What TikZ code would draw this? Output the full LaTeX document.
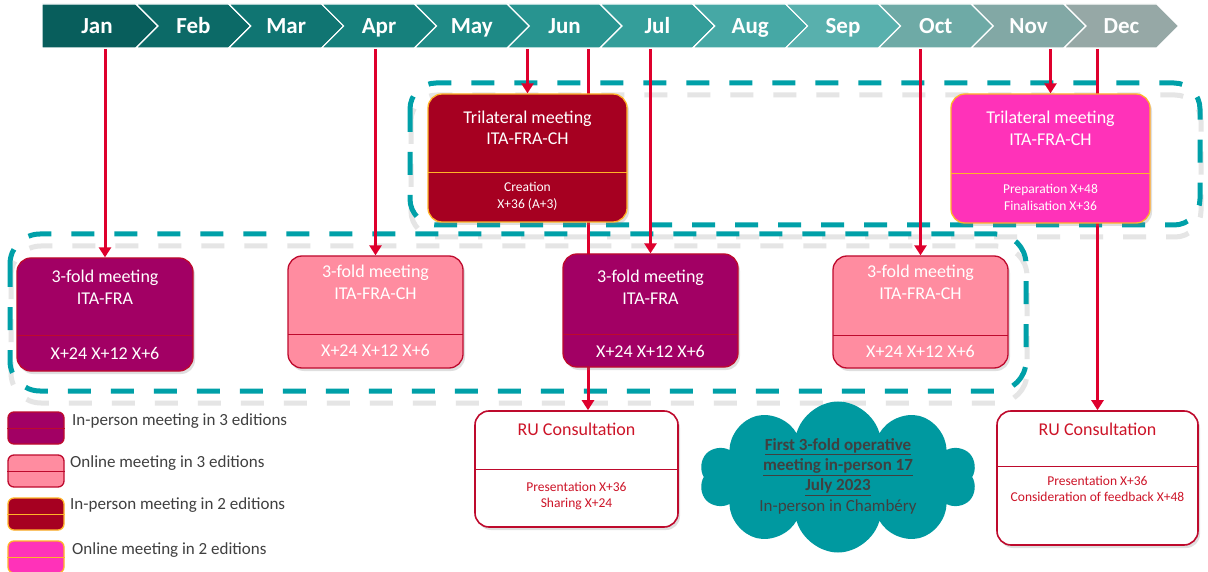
\documentclass[tikz,border=0pt]{standalone}
\usepackage{fontspec}
\setmainfont{Carlito}
\usetikzlibrary{arrows.meta,shapes.symbols,shadows}
\definecolor{mc0}{RGB}{8,94,92}
\definecolor{mc1}{RGB}{12,106,103}
\definecolor{mc2}{RGB}{16,117,114}
\definecolor{mc3}{RGB}{22,128,124}
\definecolor{mc4}{RGB}{30,138,134}
\definecolor{mc5}{RGB}{40,148,144}
\definecolor{mc6}{RGB}{52,158,154}
\definecolor{mc7}{RGB}{70,168,165}
\definecolor{mc8}{RGB}{88,176,173}
\definecolor{mc9}{RGB}{110,170,166}
\definecolor{mc10}{RGB}{130,168,165}
\definecolor{mc11}{RGB}{150,168,166}
\definecolor{cArrow}{RGB}{222,0,45}
\definecolor{cPurple}{RGB}{162,0,100}
\definecolor{cPink}{RGB}{255,140,160}
\definecolor{cDarkRed}{RGB}{166,0,33}
\definecolor{cHotPink}{RGB}{255,50,185}
\definecolor{cOrange}{RGB}{255,180,40}
\definecolor{cBorder}{RGB}{190,10,45}
\definecolor{cRU}{RGB}{205,20,40}
\definecolor{cDash}{RGB}{0,160,168}
\definecolor{cCloud}{RGB}{0,153,160}
\definecolor{cGrayTxt}{RGB}{64,64,64}
\pgfdeclarelayer{paper}
\pgfdeclarelayer{back}
\pgfdeclarelayer{lines}
\pgfsetlayers{paper,back,lines,main}
\tikzset{
  redline/.style={draw=cArrow, line width=3pt},
  redarrow/.style={redline, -{Triangle[width=12pt,length=10pt]}},
  mbox/.style={rounded corners=14pt, line width=1.3pt, inner sep=0pt,
    drop shadow={shadow xshift=2pt,shadow yshift=-3pt,opacity=0.25}},
  purplebox/.style={mbox, fill=cPurple, draw=cBorder},
  pinkbox/.style={mbox, fill=cPink, draw=cBorder},
  darkredbox/.style={mbox, fill=cDarkRed, draw=cOrange},
  hotpinkbox/.style={mbox, fill=cHotPink, draw=cOrange},
  rubox/.style={mbox, fill=white, draw=cBorder, line width=1.6pt},
  lgbox/.style={rounded corners=6pt, line width=1.3pt, inner sep=0pt, minimum width=56pt, minimum height=32pt},
  divred/.style={draw=cBorder, line width=0.9pt},
  divorange/.style={draw=cOrange, line width=0.9pt},
  ttl/.style={text=white, align=center, inner sep=0pt, font=\fontsize{18}{21.5}\selectfont},
  sub/.style={text=white, align=center, inner sep=0pt, font=\fontsize{13.5}{17}\selectfont},
  rutl/.style={text=cRU, align=center, inner sep=0pt, font=\fontsize{18}{21.5}\selectfont},
  rusub/.style={text=cRU, align=center, inner sep=0pt, font=\fontsize{13.5}{16.5}\selectfont},
  lgtxt/.style={text=cGrayTxt, anchor=west, inner sep=0pt, font=\fontsize{17}{20}\selectfont},
  month/.style={text=white, inner sep=0pt, anchor=base, font=\bfseries\fontsize{23}{26}\selectfont},
  dashbox/.style={draw=cDash, line width=5pt, dash pattern=on 23pt off 20pt},
  dashshadow/.style={draw=black!10, line width=5pt, dash pattern=on 23pt off 20pt},
}
\begin{document}
\begin{tikzpicture}[x=1pt,y=-1pt]
\useasboundingbox (0,0) rectangle (1208,572);
\begin{pgfonlayer}{paper}
\fill[white] (0,0) rectangle (1208,572);
\end{pgfonlayer}

% timeline chevrons
\foreach \m [count=\i from 0] in {Jan,Feb,Mar,Apr,May,Jun,Jul,Aug,Sep,Oct,Nov,Dec}{
  \pgfmathsetmacro{\R}{136+92.8*\i}
  \pgfmathsetmacro{\L}{136+92.8*(\i-1)}
  \pgfmathsetmacro{\Rt}{\R+22}
  \pgfmathsetmacro{\Lt}{\L+22}
  \ifnum\i=0
    \filldraw[fill=mc\i, draw=white, line width=1.2pt] (42,4) -- (\R,4) -- (\Rt,26) -- (\R,48) -- (42,48) -- cycle;
    \node[month] (m\i) at (97,33.5) {\m};
  \else
    \filldraw[fill=mc\i, draw=white, line width=1.2pt] (\L,4) -- (\R,4) -- (\Rt,26) -- (\R,48) -- (\L,48) -- (\Lt,26) -- cycle;
    \pgfmathsetmacro{\C}{(\L+\R)/2+11}
    \node[month] (m\i) at (\C,33.5) {\m};
  \fi
}
\coordinate (tlb) at (0,49);
\coordinate (junx) at (588,49);

% three-fold meetings
\node[purplebox, minimum width=176pt, minimum height=113pt] (f1) at (105,314.5) {};
\draw[divred] (17,335) -- (193,335);
\node[ttl] (f1t) at (105,287.5) {3-fold meeting\\ITA-FRA};
\node[ttl] (f1s) at (105,353) {X+24 X+12 X+6};

\node[pinkbox, minimum width=175pt, minimum height=112pt] (f2) at (375.5,312) {};
\draw[divred] (288,334) -- (463,334);
\node[ttl] (f2t) at (375.5,282.5) {3-fold meeting\\ITA-FRA-CH};
\node[ttl] (f2s) at (375.5,350) {X+24 X+12 X+6};

\node[purplebox, minimum width=175pt, minimum height=113pt] (f3) at (650.5,310.5) {};
\draw[divred] (563,334) -- (738,334);
\node[ttl] (f3t) at (650.5,287.5) {3-fold meeting\\ITA-FRA};
\node[ttl] (f3s) at (650.5,351) {X+24 X+12 X+6};

\node[pinkbox, minimum width=175pt, minimum height=112pt] (f4) at (920.5,312) {};
\draw[divred] (833,335) -- (1008,335);
\node[ttl] (f4t) at (920.5,282.5) {3-fold meeting\\ITA-FRA-CH};
\node[ttl] (f4s) at (920.5,351) {X+24 X+12 X+6};

% trilateral meetings
\node[darkredbox, minimum width=199pt, minimum height=128pt] (t1) at (527.5,158) {};
\draw[divorange] (428,172) -- (627,172);
\node[ttl] (t1t) at (527.5,128) {Trilateral meeting\\ITA-FRA-CH};
\node[sub] (t1s) at (527.5,196.5) {Creation\\X+36 (A+3)};

\node[hotpinkbox, minimum width=199pt, minimum height=129pt] (t2) at (1050.5,158.5) {};
\draw[divorange] (951,173) -- (1150,173);
\node[ttl] (t2t) at (1050.5,128.5) {Trilateral meeting\\ITA-FRA-CH};
\node[sub] (t2s) at (1050.5,197.5) {Preparation X+48\\Finalisation X+36};

% RU consultations
\node[rubox, minimum width=203pt, minimum height=116pt] (ru1) at (576.5,469) {};
\draw[divred] (475,469) -- (678,469);
\node[rutl] (ru1t) at (576.5,429) {RU Consultation};
\node[rusub] (ru1s) at (576.5,496) {Presentation X+36\\Sharing X+24};

\node[rubox, minimum width=201pt, minimum height=134pt] (ru2) at (1097.5,478) {};
\draw[divred] (997,466) -- (1198,466);
\node[rutl] (ru2t) at (1097.5,429) {RU Consultation};
\node[rusub] (ru2s) at (1097.5,489) {Presentation X+36\\Consideration of feedback X+48};

% cloud
\node[cloud, cloud puffs=10, cloud ignores aspect, minimum width=277pt, minimum height=151pt, fill=cCloud, inner sep=0pt] (cl) at (838,477) {};
\node[text=cGrayTxt, align=center, inner sep=0pt, font=\fontsize{17}{20.3}\selectfont] (clt) at (838,476)
  {\textbf{\underline{First 3-fold operative}}\\\textbf{\underline{meeting in-person 17}}\\\textbf{\underline{July 2023}}\\In-person in Chambéry};

% legend
\node[lgbox, fill=cPurple, draw=cBorder] (lg1) at (36,428) {};
\draw[divred] (lg1.west) -- (lg1.east);
\node[lgtxt] (lg1t) at (72,421) {In-person meeting in 3 editions};
\node[lgbox, fill=cPink, draw=cBorder] (lg2) at (36,471) {};
\draw[divred] (lg2.west) -- (lg2.east);
\node[lgtxt] (lg2t) at (70,463) {Online meeting in 3 editions};
\node[lgbox, fill=cDarkRed, draw=cOrange] (lg3) at (36,514) {};
\draw[divorange] (lg3.west) -- (lg3.east);
\node[lgtxt] (lg3t) at (70,505) {In-person meeting in 2 editions};
\node[lgbox, fill=cHotPink, draw=cOrange] (lg4) at (36,557) {};
\draw[divorange] (lg4.west) -- (lg4.east);
\node[lgtxt] (lg4t) at (72,550) {Online meeting in 2 editions};

% dashed groups
\begin{pgfonlayer}{back}
  \draw[dashshadow, rounded corners=26pt] (411,95) rectangle (1201,237);
  \draw[dashshadow, rounded corners=30pt] (11,246) rectangle (1027,403);
  \draw[dashbox, rounded corners=26pt] (410,83) rectangle (1200,225);
  \draw[dashbox, rounded corners=30pt] (10,234) rectangle (1026,391);
\end{pgfonlayer}

% red connectors
\begin{pgfonlayer}{lines}
  \draw[redarrow] (f1.north |- tlb) -- (f1.north);
  \draw[redarrow] (f2.north |- tlb) -- (f2.north);
  \draw[redarrow] (t1.north |- tlb) -- (t1.north);
  \draw[redarrow] (junx) -- (junx |- ru1.north);
  \draw[redarrow] (f3.north |- tlb) -- (f3.north);
  \draw[redarrow] (f4.north |- tlb) -- (f4.north);
  \draw[redarrow] (t2.north |- tlb) -- (t2.north);
  \draw[redarrow] (ru2.north |- tlb) -- (ru2.north);
\end{pgfonlayer}
\end{tikzpicture}
\end{document}
